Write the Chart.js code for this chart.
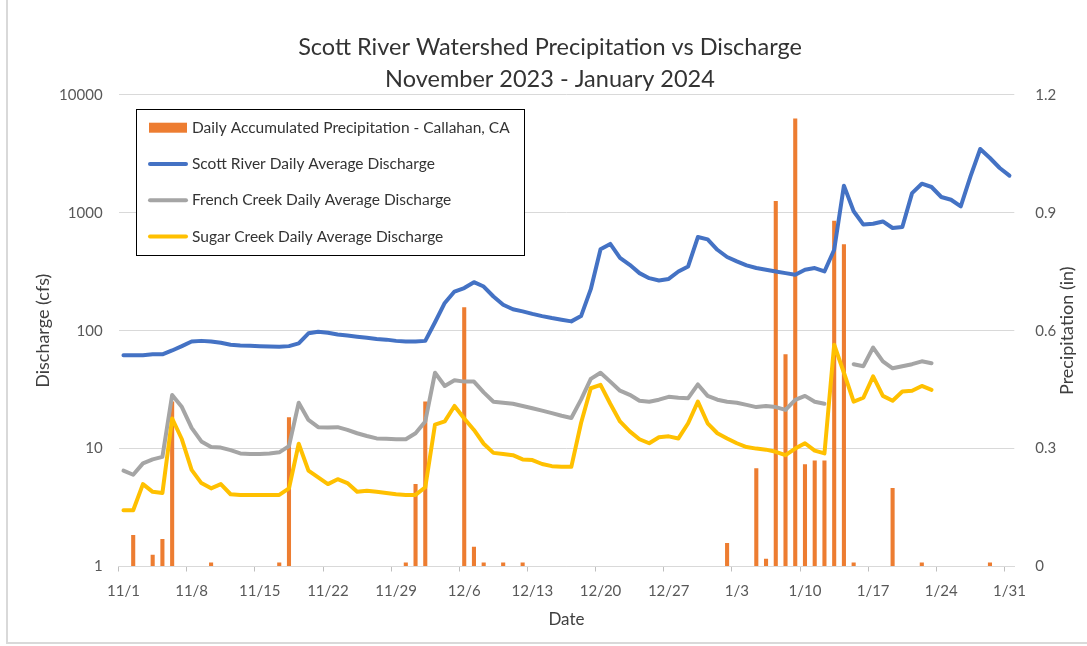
<!DOCTYPE html>
<html>
<head>
<meta charset="utf-8">
<script src="https://cdn.jsdelivr.net/npm/chart.js@4"></script>
<style>
  html, body { margin: 0; padding: 0; background: #ffffff; }
  #wrap { width: 1087px; height: 646px; }
</style>
</head>
<body>
<div id="wrap"><canvas id="chart" width="1087" height="646"></canvas></div>
<script>
// Day labels 11/1 .. 1/31
const months = [['11', 30], ['12', 31], ['1', 31]];
const dateLabels = [];
for (const [m, n] of months) {
  for (let d = 1; d <= n; d++) dateLabels.push(m + '/' + d);
}

// Daily accumulated precipitation, Callahan CA (in)
const precipitation = [
  0, 0.08, 0, 0.03, 0.07, 0.42, 0, 0, 0, 0.01,
  0, 0, 0, 0, 0, 0, 0.01, 0.38, 0, 0,
  0, 0, 0, 0, 0, 0, 0, 0, 0, 0.01,
  0.21, 0.42, 0, 0, 0, 0.66, 0.05, 0.01, 0, 0.01,
  0, 0.01, 0, 0, 0, 0, 0, 0, 0, 0,
  0, 0, 0, 0, 0, 0, 0, 0, 0, 0,
  0, 0, 0.06, 0, 0, 0.25, 0.02, 0.93, 0.54, 1.14,
  0.26, 0.27, 0.27, 0.88, 0.82, 0.01, 0, 0, 0, 0.20,
  0, 0, 0.01, 0, 0, 0, 0, 0, 0, 0.01,
  0, 0
];

// Daily average discharge (cfs)
const scottRiver = [
  62, 62, 62, 63, 63, 68, 74, 81, 82, 81,
  79, 76, 75, 74.5, 74, 73.5, 73, 74, 78, 95,
  98, 96, 93, 91, 89, 87, 85, 84, 82, 81,
  81, 82, 118, 172, 215, 230, 258, 237, 195, 166,
  152, 146, 139, 133, 128, 124, 120, 133, 225, 490,
  545, 415, 362, 308, 279, 267, 275, 318, 351, 623,
  595, 486, 422, 387, 358, 340, 329, 318, 308, 298,
  329, 340, 318, 486, 1700, 1030, 795, 808, 845, 743,
  757, 1470, 1766, 1656, 1362, 1291, 1133, 2037, 3478, 2917,
  2400, 2065
];

const frenchCreek = [
  6.5, 6.0, 7.5, 8.1, 8.5, 28.5, 22.5, 15, 11.5, 10.3,
  10.2, 9.7, 9.1, 9.0, 9.0, 9.1, 9.3, 10.5, 24.5, 17.5,
  15.2, 15.1, 15.2, 14.4, 13.5, 12.8, 12.2, 12.1, 12.0, 12.0,
  13.5, 17, 44, 34, 38, 37, 37, 30, 25, 24.5,
  24, 23, 22, 21, 20, 19, 18.2, 26, 39, 44,
  37, 31, 28.6, 25.5, 25, 26, 27.5, 27, 26.8, 35,
  28, 26, 25, 24.5, 23.5, 22.5, 23, 22.5, 21.3, 25.9,
  28, 25, 24, null, null, 52, 50, 72, 55, 48,
  50, 52, 55, 53, null, null, null, null, null, null,
  null, null
];

const sugarCreek = [
  3.0, 3.0, 5.0, 4.3, 4.2, 18, 12, 6.6, 5.1, 4.6,
  5.0, 4.1, 4.05, 4.05, 4.05, 4.05, 4.05, 4.6, 11, 6.5,
  5.7, 5.0, 5.5, 5.1, 4.3, 4.4, 4.3, 4.2, 4.1, 4.05,
  4.05, 4.7, 16, 17, 23, 18, 14.4, 11, 9.2, 9.0,
  8.8, 8.1, 8.0, 7.4, 7.1, 7.0, 7.0, 16.5, 32.5, 34.7,
  24, 17, 14, 12, 11.1, 12.5, 12.7, 12.2, 16.4, 25,
  16.4, 13.5, 12.2, 11.1, 10.3, 10, 9.8, 9.4, 8.8, 10,
  11.1, 9.6, 9.1, 76, 44, 25, 27, 41, 28, 25.5,
  30.5, 31, 34, 31.5, null, null, null, null, null, null,
  null, null
];

const dischargeTicks = [1, 10, 100, 1000, 10000];
const precipTicks = [0, 0.3, 0.6, 0.9, 1.2];
const labelEvery = 7;

Chart.defaults.font.family = 'Lato';

// White page with a light frame on the left and bottom edges
const frame = {
  id: 'frame',
  beforeDraw(chart) {
    const { ctx, width } = chart;
    ctx.save();
    ctx.fillStyle = '#ffffff';
    ctx.fillRect(0, 0, chart.width, chart.height);
    ctx.strokeStyle = '#D9D9D9';
    ctx.lineWidth = 2;
    ctx.beginPath();
    ctx.moveTo(7, 0);
    ctx.lineTo(7, 643);
    ctx.lineTo(width, 643);
    ctx.stroke();
    ctx.restore();
  }
};

// Boxed legend inside the plot area
const boxLegend = {
  id: 'boxLegend',
  afterDatasetsDraw(chart, args, opts) {
    const ctx = chart.ctx;
    const { x, y, width, height, firstRow, rowGap } = opts;
    ctx.save();
    ctx.fillStyle = '#ffffff';
    ctx.fillRect(x, y, width, height);
    ctx.strokeStyle = '#000000';
    ctx.lineWidth = 1;
    ctx.strokeRect(x + 0.5, y + 0.5, width, height);
    chart.data.datasets.forEach((ds, i) => {
      const cy = y + firstRow + i * rowGap;
      if (ds.type === 'bar') {
        ctx.fillStyle = ds.backgroundColor;
        ctx.fillRect(x + 13, cy - 5, 38, 10);
      } else {
        ctx.strokeStyle = ds.borderColor;
        ctx.lineWidth = 4;
        ctx.lineCap = 'round';
        ctx.beginPath();
        ctx.moveTo(x + 14, cy);
        ctx.lineTo(x + 50, cy);
        ctx.stroke();
      }
      ctx.fillStyle = '#333333';
      ctx.font = '15.5px Lato';
      ctx.textAlign = 'left';
      ctx.textBaseline = 'middle';
      ctx.fillText(ds.label, x + 56, cy);
    });
    ctx.restore();
  }
};

// Right-hand axis title, reading bottom to top
const rightTitle = {
  id: 'rightTitle',
  afterDraw(chart) {
    const s = chart.scales.y1;
    const ctx = chart.ctx;
    ctx.save();
    ctx.translate(1067, (s.top + s.bottom) / 2);
    ctx.rotate(-Math.PI / 2);
    ctx.font = '18px Lato';
    ctx.fillStyle = '#404040';
    ctx.textAlign = 'center';
    ctx.textBaseline = 'middle';
    ctx.fillText('Precipitation (in)', 0, 0);
    ctx.restore();
  }
};

const lineStyle = {
  type: 'line',
  yAxisID: 'y',
  borderWidth: 4,
  pointRadius: 0,
  tension: 0,
  spanGaps: false,
  borderJoinStyle: 'round',
  borderCapStyle: 'round'
};

new Chart(document.getElementById('chart'), {
  type: 'bar',
  data: {
    labels: dateLabels,
    datasets: [
      {
        type: 'bar',
        label: 'Daily Accumulated Precipitation - Callahan, CA',
        data: precipitation,
        yAxisID: 'y1',
        backgroundColor: '#ED7D31',
        barPercentage: 0.42,
        categoryPercentage: 1,
        order: 4
      },
      Object.assign({}, lineStyle, {
        label: 'Scott River Daily Average Discharge',
        data: scottRiver, borderColor: '#4472C4', order: 3
      }),
      Object.assign({}, lineStyle, {
        label: 'French Creek Daily Average Discharge',
        data: frenchCreek, borderColor: '#A5A5A5', order: 2
      }),
      Object.assign({}, lineStyle, {
        label: 'Sugar Creek Daily Average Discharge',
        data: sugarCreek, borderColor: '#FFC000', order: 1
      })
    ]
  },
  options: {
    responsive: false,
    animation: false,
    layout: { padding: { left: 13, right: 0, top: 0, bottom: 0 } },
    plugins: {
      legend: { display: false },
      tooltip: { enabled: false },
      title: {
        display: true,
        text: ['Scott River Watershed Precipitation vs Discharge', 'November 2023 - January 2024'],
        color: '#333333',
        font: { size: 23.5, weight: 'normal', lineHeight: 1.36 },
        padding: { top: 31, bottom: 0 }
      },
      boxLegend: { x: 136, y: 109, width: 388, height: 146, firstRow: 18.7, rowGap: 36.3 }
    },
    scales: {
      x: {
        offset: true,
        grid: {
          offset: true,
          drawOnChartArea: false,
          drawTicks: true,
          tickLength: 5,
          tickColor: (c) => (c.index % labelEvery === 0 ? '#BFBFBF' : 'rgba(0,0,0,0)')
        },
        border: { color: '#D9D9D9' },
        ticks: {
          autoSkip: false,
          maxRotation: 0,
          minRotation: 0,
          color: '#595959',
          font: { size: 15 },
          padding: 11,
          callback: (v, i) => (i % labelEvery === 0 ? dateLabels[i] : '')
        },
        title: {
          display: true, text: 'Date', color: '#404040',
          font: { size: 17 }, padding: { top: 0, bottom: 16 }
        },
        afterFit: (s) => { s.height = 79.5; }
      },
      y: {
        type: 'logarithmic',
        position: 'left',
        min: 1,
        max: 10000,
        afterBuildTicks: (s) => { s.ticks = dischargeTicks.map((v) => ({ value: v })); },
        grid: { color: '#D9D9D9', drawTicks: false },
        border: { display: false },
        ticks: { color: '#595959', font: { size: 15 }, padding: 16, callback: (v) => String(v) },
        title: {
          display: true, text: 'Discharge (cfs)', color: '#404040',
          font: { size: 18 }, padding: { top: 19, bottom: 0 }
        },
        afterFit: (s) => { s.width = 105.6; }
      },
      y1: {
        type: 'linear',
        position: 'right',
        min: 0,
        max: 1.2,
        afterBuildTicks: (s) => { s.ticks = precipTicks.map((v) => ({ value: v })); },
        grid: { drawOnChartArea: false, drawTicks: false },
        border: { display: false },
        ticks: {
          color: '#595959', font: { size: 15 }, padding: 21,
          callback: (v) => (v === 0 ? '0' : v.toFixed(1))
        },
        afterFit: (s) => { s.width = 72.7; }
      }
    }
  },
  plugins: [frame, boxLegend, rightTitle]
});
</script>
</body>
</html>
